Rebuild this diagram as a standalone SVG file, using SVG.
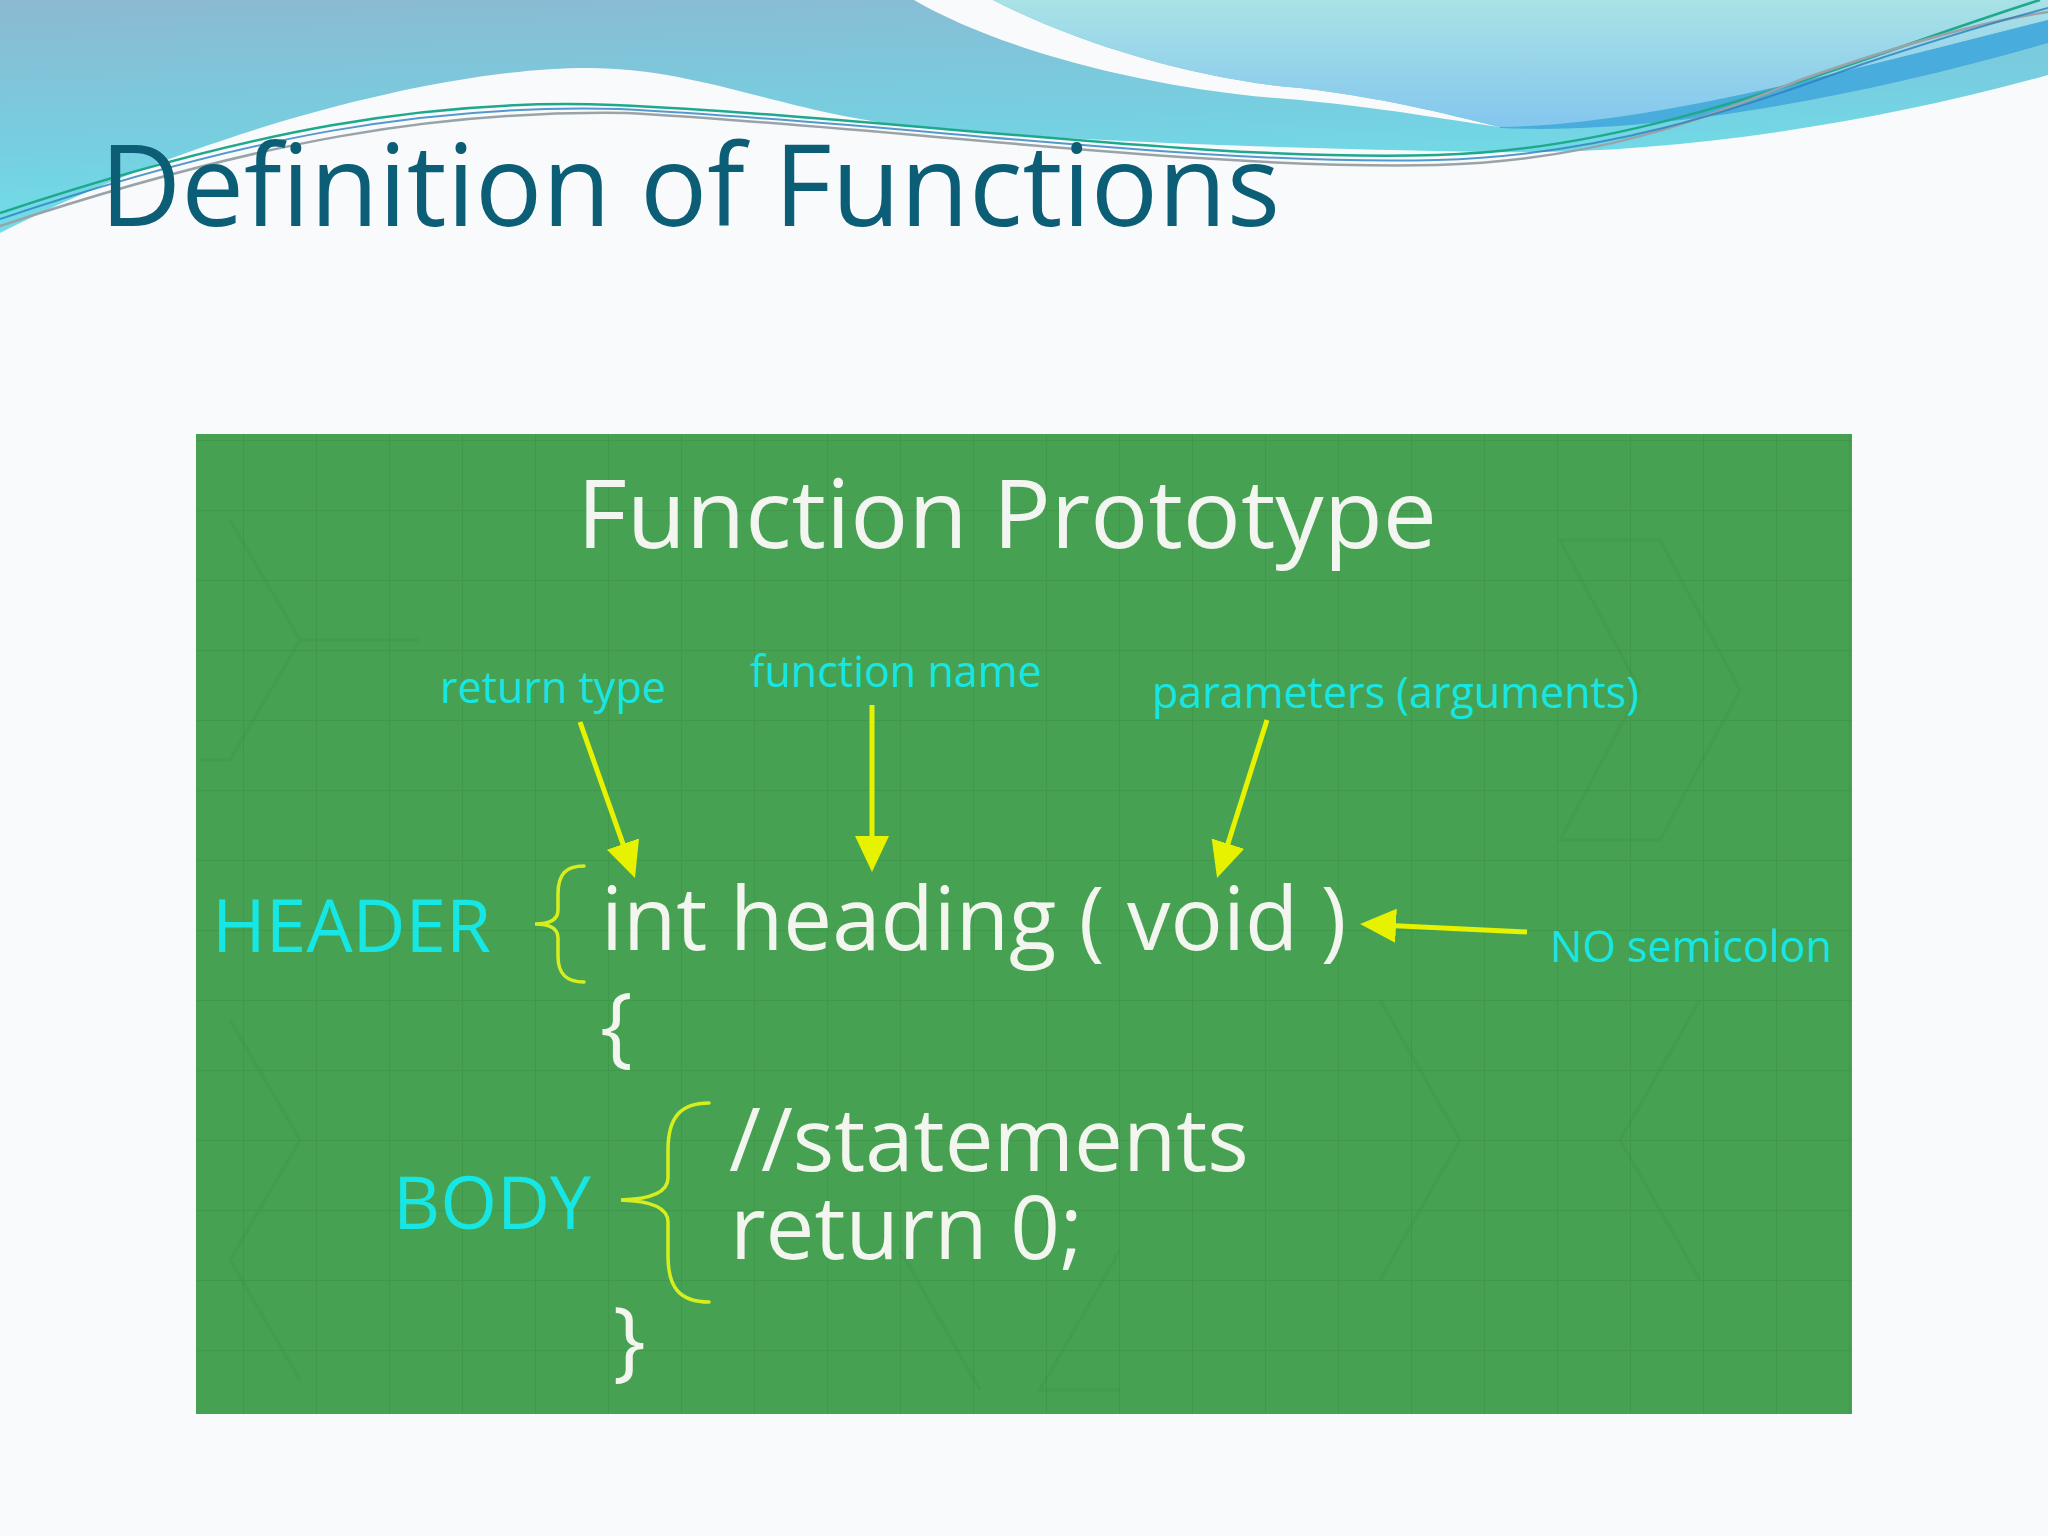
<svg xmlns="http://www.w3.org/2000/svg" width="2048" height="1536" viewBox="0 0 2048 1536">
<defs>
<linearGradient id="gBlue" x1="0" y1="0" x2="0.3" y2="1">
<stop offset="0" stop-color="#8cb9d2"/>
<stop offset="0.6" stop-color="#76cfe0"/>
<stop offset="1" stop-color="#6ee2ec"/>
</linearGradient>
<linearGradient id="gLight" x1="0" y1="0" x2="0" y2="1">
<stop offset="0" stop-color="#a9e2e6"/>
<stop offset="1" stop-color="#84c6ee"/>
</linearGradient>
<pattern id="grid" x="243" y="440" width="73" height="70" patternUnits="userSpaceOnUse">
<path d="M0,0 V70 M0,0 H73" fill="none" stroke="#2f8a3c" stroke-width="2" opacity="0.3"/>
</pattern>
<marker id="arr" markerUnits="userSpaceOnUse" markerWidth="36" markerHeight="34" refX="6" refY="17" orient="auto">
<path d="M0,0 L36,17 L0,34 Z" fill="#e6f200"/>
</marker>
<style>
.lbl{font-family:"Open Sans","Noto Sans",sans-serif;font-size:43px;fill:#16e6e4}
.sec{font-family:"Open Sans","Noto Sans",sans-serif;font-size:73px;fill:#16e6e4}
.code{font-family:"Open Sans","Noto Sans",sans-serif;font-size:87px;fill:#f3f6ef}
.arrow{fill:none;stroke:#e6f200;stroke-width:5;marker-end:url(#arr)}
.brace{fill:none;stroke:#d6ee1e;stroke-width:3.5;stroke-linecap:round}
.hex{fill:none;stroke:#2f8a3c;stroke-width:3;opacity:0.18}
</style>
</defs>
<rect width="2048" height="1536" fill="#f9fafb"/>
<!-- top decoration -->
<path d="M0,0 H2048 V75 C1850,130 1650,155 1491,152 C1250,148 1050,140 914,127 C780,112 700,68 588,68 C430,68 180,140 0,233 Z" fill="url(#gBlue)"/>
<path d="M914,0 H993 C1080,45 1200,80 1300,88 C1400,100 1460,118 1500,127 C1460,122 1400,110 1300,100 C1150,90 1000,50 914,0 Z" fill="#f9fafb"/>
<path d="M993,0 H2048 V20 C1850,70 1650,125 1500,127 C1460,118 1400,100 1300,88 C1200,80 1080,45 993,0 Z" fill="url(#gLight)"/>
<path d="M1500,127 C1650,125 1850,70 2048,20 V43 C1850,100 1650,135 1500,128 Z" fill="#48acdc"/>
<path d="M0,213 C250,130 430,98 614,105 C900,118 1200,162 1437,155 C1650,150 1850,60 2040,0" fill="none" stroke="#1fa98c" stroke-width="2.5"/>
<path d="M0,226 C260,140 440,110 627,113 C900,128 1200,170 1437,165 C1600,160 1700,120 1800,80 C1900,45 1990,20 2048,12" fill="none" stroke="#9aa3a8" stroke-width="2.5"/>
<path d="M0,219 C250,135 430,104 620,109 C900,123 1200,166 1437,160 C1620,155 1760,100 1860,65 C1950,35 2010,18 2048,8" fill="none" stroke="#2a7fc0" stroke-width="2" opacity="0.8"/>
<text x="100" y="226" font-family="'Open Sans','Noto Sans',sans-serif" font-size="113" fill="#0c5e77" textLength="1180" lengthAdjust="spacingAndGlyphs">Definition of Functions</text>
<!-- green panel -->
<g id="panel">
<rect x="196" y="434" width="1656" height="980" fill="#47a152"/>
<rect x="196" y="434" width="1656" height="980" fill="url(#grid)"/>
<path class="hex" d="M230,520 L300,640 L230,760 L200,760 M300,640 L420,640"/>
<path class="hex" d="M1560,540 L1640,690 L1560,840 L1660,840 L1740,690 L1660,540 Z"/>
<path class="hex" d="M230,1020 L300,1140 L230,1260 L300,1380 M900,1250 L980,1390 M1120,1250 L1040,1390 L1120,1390"/>
<path class="hex" d="M1380,1000 L1460,1140 L1380,1280 M1700,1000 L1620,1140 L1700,1280"/>
<text x="577" y="548" font-family="'Open Sans','Noto Sans',sans-serif" font-size="96" fill="#f2f5f0" textLength="860" lengthAdjust="spacingAndGlyphs">Function Prototype</text>
</g>
<g id="label-return-type"><text class="lbl" x="440" y="703">return type</text></g>
<g id="label-function-name"><text class="lbl" x="750" y="687">function name</text></g>
<g id="label-parameters"><text class="lbl" x="1152" y="708">parameters (arguments)</text></g>
<g id="label-no-semicolon"><text class="lbl" x="1550" y="962">NO semicolon</text></g>
<g id="header"><text class="sec" x="212" y="952">HEADER</text>
<path class="brace" d="M584,866 C566,866 558,874 558,894 L558,910 C558,920 550,924 535,924 C550,924 558,928 558,938 L558,956 C558,974 566,982 584,982"/></g>
<g id="body"><text class="sec" x="393" y="1229">BODY</text>
<path class="brace" d="M709,1103 C680,1103 668,1118 668,1150 L668,1178 C668,1192 652,1199 621,1200 C652,1201 668,1208 668,1222 L668,1256 C668,1288 680,1302 709,1302"/></g>
<g id="code">
<text class="code" x="601" y="950">int heading ( void )</text>
<text class="code" x="600" y="1056">{</text>
<text class="code" x="729" y="1171">//statements</text>
<text class="code" x="730" y="1259">return 0;</text>
<text class="code" x="613" y="1370">}</text>
</g>
<g id="connectors">
<path class="arrow" d="M580,722 L625,849.7"/>
<path class="arrow" d="M872,705 L872,842"/>
<path class="arrow" d="M1267,720 L1226.1,849.4"/>
<path class="arrow" d="M1527,932 L1390,925.4"/>
</g>
</svg>
